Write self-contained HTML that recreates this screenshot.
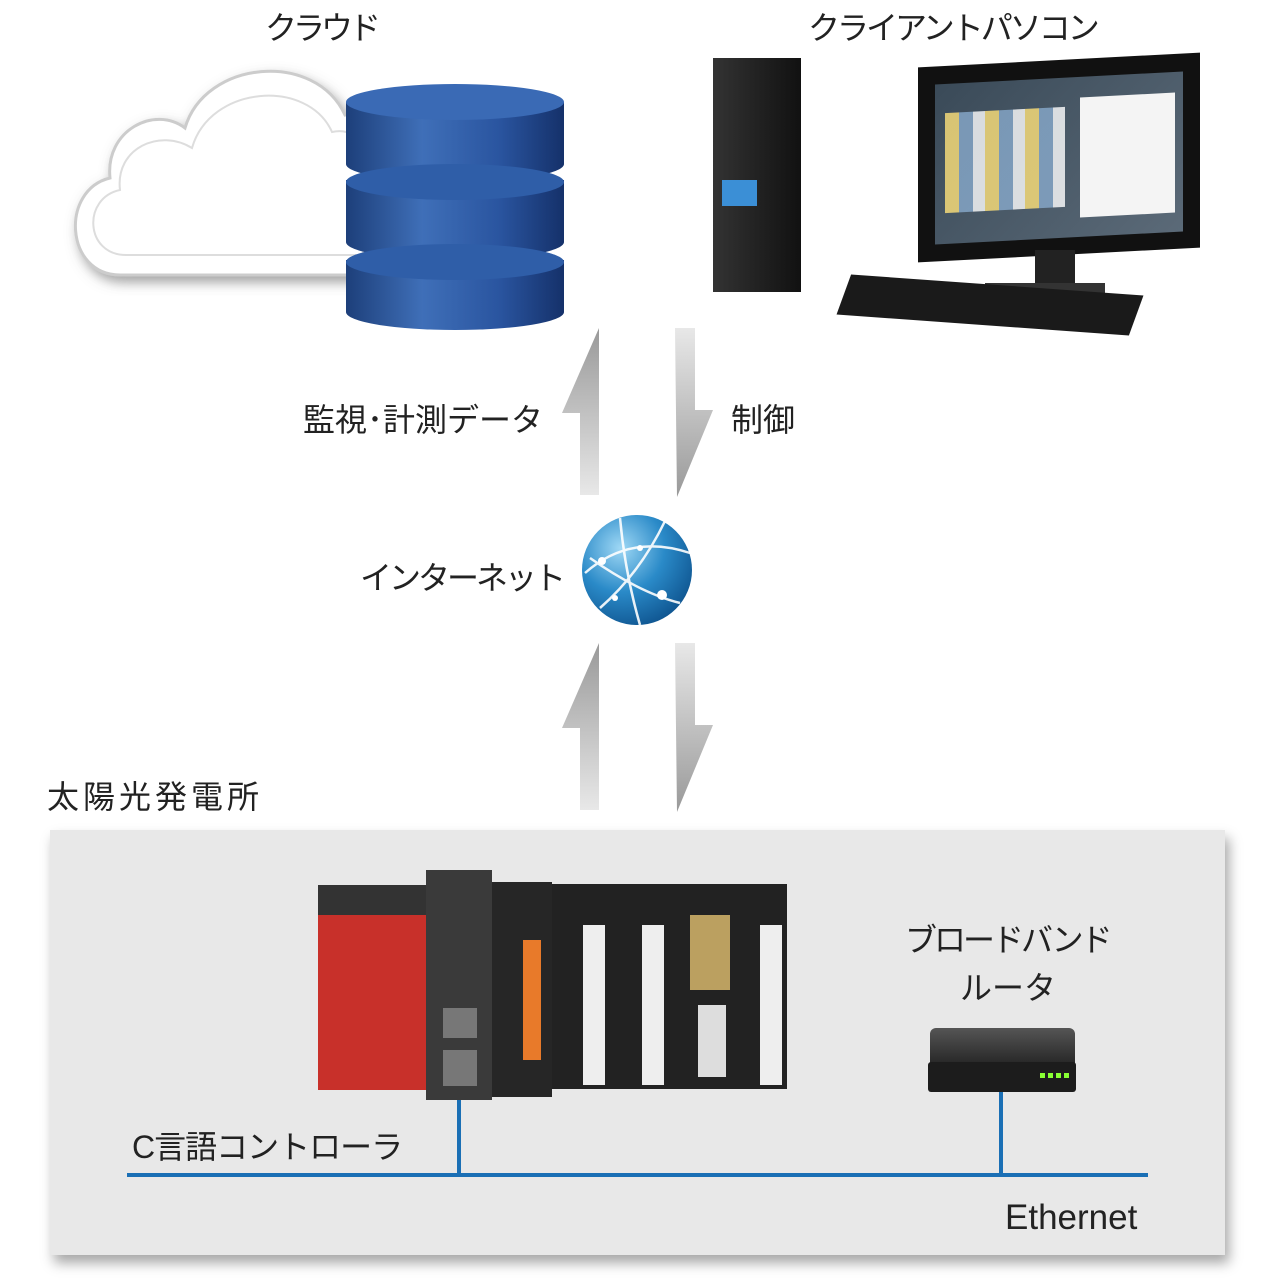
<!DOCTYPE html>
<html><head><meta charset="utf-8"><style>
body{margin:0;width:1280px;height:1280px;background:#fff;position:relative;overflow:hidden;font-family:"Liberation Sans","Noto Sans CJK JP",sans-serif;color:#222}
.t{position:absolute;white-space:nowrap;font-size:32px;line-height:1}
.a{position:absolute}
</style></head><body>
<div class="t" style="left:265px;top:12px;letter-spacing:-4px">クラウド</div>
<div class="t" style="left:808px;top:12px;letter-spacing:-3px">クライアントパソコン</div>

<!-- cloud -->
<svg class="a" style="left:60px;top:50px" width="340" height="250">
<defs><filter id="sh"><feDropShadow dx="4" dy="6" stdDeviation="6" flood-color="#666" flood-opacity="0.6"/></filter></defs>
<path d="M60,225 C5,225 0,140 50,128 C45,80 95,55 125,78 C145,10 255,0 285,65 C325,55 340,110 325,140 L325,225 Z" fill="#fff" stroke="#ccc" stroke-width="3" filter="url(#sh)"/>
<path d="M66,205 C25,205 22,148 60,140 C55,98 100,78 132,98 C150,35 248,28 272,82 C305,75 315,115 303,140 L303,205 Z" fill="#fff" stroke="#ddd" stroke-width="2"/>
</svg>
<!-- database -->
<svg class="a" style="left:340px;top:80px" width="232" height="255">
<defs><linearGradient id="db" x1="0" x2="1"><stop offset="0" stop-color="#1d3f7a"/><stop offset=".35" stop-color="#3f6fb8"/><stop offset=".7" stop-color="#2a55a0"/><stop offset="1" stop-color="#15316a"/></linearGradient></defs>
<g fill="url(#db)">
<rect x="6" y="180" width="218" height="52"/><ellipse cx="115" cy="232" rx="109" ry="18"/>
<rect x="6" y="100" width="218" height="62"/><ellipse cx="115" cy="162" rx="109" ry="18"/>
<rect x="6" y="22" width="218" height="62"/><ellipse cx="115" cy="84" rx="109" ry="18"/>
</g>
<ellipse cx="115" cy="182" rx="109" ry="18" fill="#2f5ea8"/>
<ellipse cx="115" cy="102" rx="109" ry="18" fill="#2f5ea8"/>
<ellipse cx="115" cy="22" rx="109" ry="18" fill="#3a6ab5"/>
</svg>

<!-- PC -->
<div class="a" style="left:713px;top:58px;width:88px;height:234px;background:linear-gradient(90deg,#333,#111);"></div>
<div class="a" style="left:722px;top:180px;width:35px;height:26px;background:#3b8fd6"></div>
<div class="a" style="left:918px;top:60px;width:282px;height:195px;background:#111;transform:skewY(-3deg)"></div>
<div class="a" style="left:935px;top:78px;width:248px;height:160px;background:linear-gradient(135deg,#3a4a58,#5b6a78);transform:skewY(-3deg)"></div>
<div class="a" style="left:1080px;top:95px;width:95px;height:120px;background:#f4f4f4;transform:skewY(-3deg)"></div>
<div class="a" style="left:945px;top:110px;width:120px;height:100px;background:repeating-linear-gradient(90deg,#ffe27a 0 14px,#8ac 14px 28px,#fff 28px 40px);opacity:.8;transform:skewY(-3deg)"></div>
<div class="a" style="left:1035px;top:250px;width:40px;height:40px;background:#222"></div>
<div class="a" style="left:985px;top:283px;width:120px;height:14px;background:#333"></div>
<div class="a" style="left:840px;top:285px;width:300px;height:40px;background:#1a1a1a;transform:skewX(-20deg) skewY(4deg)"></div>

<!-- arrows -->
<svg class="a" style="left:555px;top:325px" width="170" height="495">
<defs>
<linearGradient id="up" x1="0" y1="0" x2="0" y2="1"><stop offset="0" stop-color="#999"/><stop offset="1" stop-color="#e8e8e8"/></linearGradient>
<linearGradient id="dn" x1="0" y1="0" x2="0" y2="1"><stop offset="0" stop-color="#e8e8e8"/><stop offset="1" stop-color="#999"/></linearGradient>
</defs>
<polygon points="44,3 44,170 25,170 25,88 7,88" fill="url(#up)"/>
<polygon points="120,3 140,3 140,85 158,85 122,172" fill="url(#dn)"/>
<polygon points="44,318 44,485 25,485 25,403 7,403" fill="url(#up)"/>
<polygon points="120,318 140,318 140,400 158,400 122,487" fill="url(#dn)"/>
</svg>
<div class="t" style="left:303px;top:404px">監視･計測データ</div>
<div class="t" style="left:731px;top:404px">制御</div>
<div class="t" style="left:360px;top:562px;letter-spacing:-3px">インターネット</div>

<!-- globe -->
<svg class="a" style="left:580px;top:513px" width="115" height="115">
<defs><radialGradient id="gl" cx=".35" cy=".3" r=".8"><stop offset="0" stop-color="#9fd8f5"/><stop offset=".5" stop-color="#2a8ac8"/><stop offset="1" stop-color="#0c4f8a"/></radialGradient></defs>
<circle cx="57" cy="57" r="55" fill="url(#gl)"/>
<g stroke="#fff" stroke-width="2.5" fill="none" opacity=".9">
<path d="M5,60 Q50,20 110,40"/><path d="M20,95 Q60,60 85,8"/><path d="M10,45 Q60,80 100,90"/><path d="M40,5 Q45,60 60,112"/>
</g>
<g fill="#fff"><circle cx="22" cy="48" r="4"/><circle cx="82" cy="82" r="5"/><circle cx="60" cy="35" r="3"/><circle cx="35" cy="85" r="3"/></g>
</svg>

<div class="t" style="left:47px;top:781px;letter-spacing:4px">太陽光発電所</div>

<!-- panel -->
<div class="a" style="left:50px;top:830px;width:1175px;height:425px;background:#e8e8e8;box-shadow:4px 8px 12px rgba(0,0,0,.35)"></div>

<!-- PLC -->
<div class="a" style="left:318px;top:885px;width:110px;height:205px;background:#c8302a"></div>
<div class="a" style="left:318px;top:885px;width:110px;height:30px;background:#333"></div>
<div class="a" style="left:426px;top:870px;width:66px;height:230px;background:#3a3a3a"></div>
<div class="a" style="left:443px;top:1008px;width:34px;height:30px;background:#777"></div>
<div class="a" style="left:443px;top:1050px;width:34px;height:36px;background:#777"></div>
<div class="a" style="left:492px;top:882px;width:60px;height:215px;background:#262626"></div>
<div class="a" style="left:523px;top:940px;width:18px;height:120px;background:#e87a2a"></div>
<div class="a" style="left:552px;top:884px;width:235px;height:205px;background:#222"></div>
<div class="a" style="left:583px;top:925px;width:22px;height:160px;background:#eee"></div>
<div class="a" style="left:642px;top:925px;width:22px;height:160px;background:#eee"></div>
<div class="a" style="left:690px;top:915px;width:40px;height:75px;background:#bba060"></div>
<div class="a" style="left:698px;top:1005px;width:28px;height:72px;background:#ddd"></div>
<div class="a" style="left:760px;top:925px;width:22px;height:160px;background:#eee"></div>

<div class="t" style="left:905px;top:924px;letter-spacing:-3px">ブロードバンド</div>
<div class="t" style="left:960px;top:972px">ルータ</div>
<!-- router -->
<div class="a" style="left:930px;top:1028px;width:145px;height:40px;background:linear-gradient(#555,#222);border-radius:6px 6px 0 0"></div>
<div class="a" style="left:928px;top:1062px;width:148px;height:30px;background:#1c1c1c;border-radius:3px"></div>
<div class="a" style="left:1040px;top:1073px;width:30px;height:5px;background:repeating-linear-gradient(90deg,#8f3 0 5px,transparent 5px 8px)"></div>

<!-- ethernet -->
<div class="a" style="left:127px;top:1173px;width:1021px;height:4px;background:#1a6fb5"></div>
<div class="a" style="left:457px;top:1100px;width:4px;height:75px;background:#1a6fb5"></div>
<div class="a" style="left:999px;top:1092px;width:4px;height:83px;background:#1a6fb5"></div>
<div class="t" style="left:132px;top:1131px;letter-spacing:-1px">C言語コントローラ</div>
<div class="t" style="left:1005px;top:1200px;font-size:35px">Ethernet</div>
</body></html>
